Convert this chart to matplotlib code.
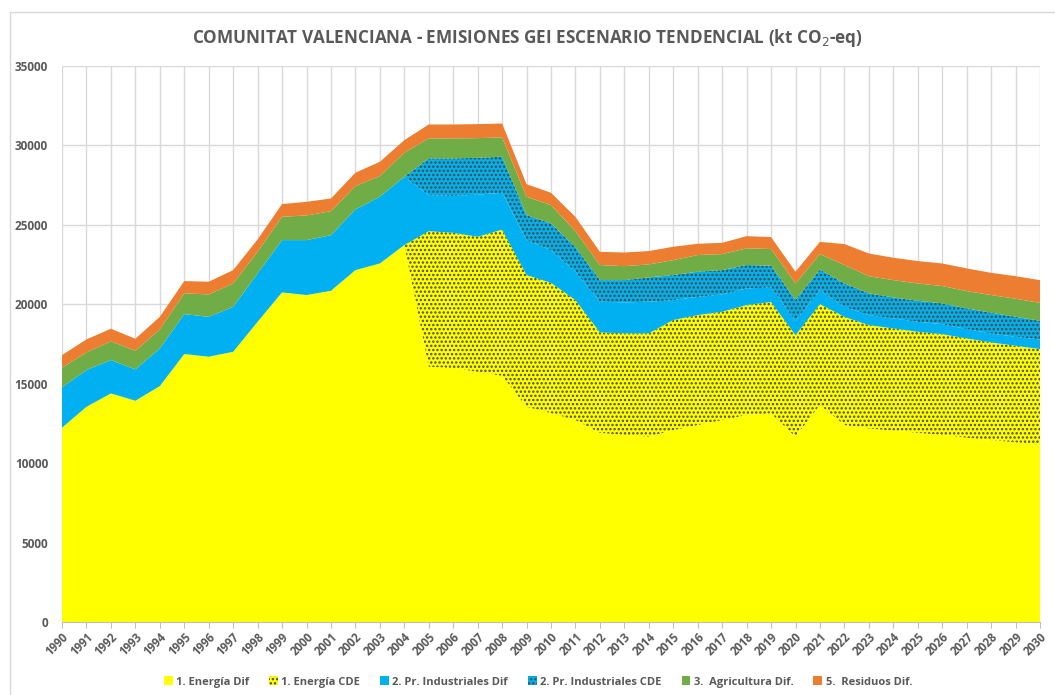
import numpy as np
import matplotlib.pyplot as plt
from matplotlib.patches import Rectangle

plt.rcParams['font.family'] = ['Liberation Sans Narrow', 'Open Sans', 'DejaVu Sans']
plt.rcParams['hatch.linewidth'] = 1.15

## data (kt CO2-eq)
years = np.arange(1990, 2031)

energia_dif = [12230, 13550, 14390, 13930, 14850, 16870, 16700, 17010, 18900, 20750,
               20580, 20850, 22150, 22570, 23730, 16070, 15990, 15750, 15500, 13550,
               13150, 12710, 11910, 11770, 11660, 12080, 12400, 12710, 13030, 13130,
               11660, 13660, 12400, 12190, 12040, 11910, 11770, 11600, 11450, 11310,
               11200]
energia_cde = [0, 0, 0, 0, 0, 0, 0, 0, 0, 0,
               0, 0, 0, 0, 0, 8530, 8510, 8500, 9200, 8290,
               8200, 7550, 6320, 6400, 6510, 6930, 6920, 6820, 6920, 7010,
               6400, 6350, 6810, 6500, 6440, 6360, 6350, 6250, 6150, 6080,
               5980]
industria_dif = [2540, 2310, 2100, 1970, 2370, 2510, 2510, 2830, 3040, 3290,
                 3460, 3500, 3820, 4200, 4300, 2270, 2330, 2650, 2320, 2200,
                 2060, 1790, 1930, 1950, 1990, 1250, 1150, 1090, 1050, 920,
                 890, 880, 630, 630, 630, 630, 630, 590, 570, 560,
                 610]
industria_cde = [0, 0, 0, 0, 0, 0, 0, 0, 0, 0,
                 0, 0, 0, 0, 0, 2310, 2350, 2320, 2270, 1570,
                 1680, 1550, 1360, 1400, 1530, 1580, 1580, 1530, 1470, 1370,
                 1330, 1300, 1470, 1370, 1320, 1320, 1310, 1300, 1300, 1260,
                 1170]
agricultura = [1240, 1110, 1180, 1170, 1200, 1310, 1410, 1470, 1360, 1470,
               1550, 1510, 1470, 1300, 1510, 1260, 1260, 1240, 1210, 1160,
               1150, 1000, 950, 880, 820, 940, 1050, 1010, 1050, 1050,
               1030, 970, 1160, 1080, 1090, 1090, 1090, 1090, 1110, 1140,
               1130]
residuos = [790, 820, 790, 760, 790, 770, 800, 840, 780, 800,
            860, 800, 840, 900, 790, 880, 880, 880, 880, 790,
            780, 900, 830, 860, 840, 840, 710, 710, 770, 750,
            740, 770, 1320, 1430, 1410, 1410, 1420, 1430, 1400, 1420,
            1430]

labels = ['1. Energía Dif', '1. Energía CDE', '2. Pr. Industriales Dif',
          '2. Pr. Industriales CDE', '3.  Agricultura Dif.', '5.  Residuos Dif.']
colors = ['#ffff00', '#ffff00', '#00b0f0', '#00b0f0', '#70ad47', '#ed7d31']
hatches = [None, '....', None, '....', None, None]

gray = '#595959'

### PLOTTING
fig = plt.figure(figsize=(10.55, 6.95), dpi=100)
ax = fig.add_axes([62/1055, 1 - 622/695, (1040 - 62)/1055, (622 - 66)/695])

polys = ax.stackplot(years, energia_dif, energia_cde, industria_dif, industria_cde,
                     agricultura, residuos, colors=colors, labels=labels, zorder=2)
for p, h in zip(polys, hatches):
    p.set_linewidth(0)
    if h:
        p.set_hatch(h)
        p.set_edgecolor('#4b4b3c')

ax.set_xlim(1990, 2030)
ax.set_ylim(0, 35000)
ax.set_xticks(years)
ax.set_xticklabels([str(y) for y in years], rotation=45, ha='right',
                   rotation_mode='anchor', fontsize=8.3, fontweight='bold', color=gray)
ax.set_yticks(np.arange(0, 35001, 5000))
ax.set_yticklabels([str(v) for v in range(0, 35001, 5000)],
                   fontsize=8.5, fontweight='bold', color=gray)
ax.tick_params(axis='y', length=0, pad=10)
ax.tick_params(axis='x', length=4, color='#bfbfbf', pad=2)
ax.grid(True, color='#d9d9d9', linewidth=1, zorder=0)
ax.set_axisbelow(True)
for s in ['top', 'right', 'left']:
    ax.spines[s].set_visible(False)
ax.spines['bottom'].set_color('#bfbfbf')

fig.text(0.5, 1 - 38/695, 'COMUNITAT VALENCIANA - EMISIONES GEI ESCENARIO TENDENCIAL (kt CO$_2$-eq)',
         ha='center', va='center', fontsize=12.3, fontweight='bold', color=gray)

leg = fig.legend(handles=polys, labels=labels, loc='center', ncol=6,
                 bbox_to_anchor=(538/1055, 1 - 682/695), frameon=False,
                 handlelength=0.8, handleheight=0.8, handletextpad=0.3, columnspacing=1.8,
                 prop={'size': 8, 'weight': 'bold'})
for t in leg.get_texts():
    t.set_color(gray)

# chart area border
fig.patches.append(Rectangle((10/1055, -0.01), 1.0, 1 - 12/695 + 0.01, transform=fig.transFigure,
                             fill=False, edgecolor='#d9d9d9', linewidth=1))

fig.savefig('out.png', dpi=100)
